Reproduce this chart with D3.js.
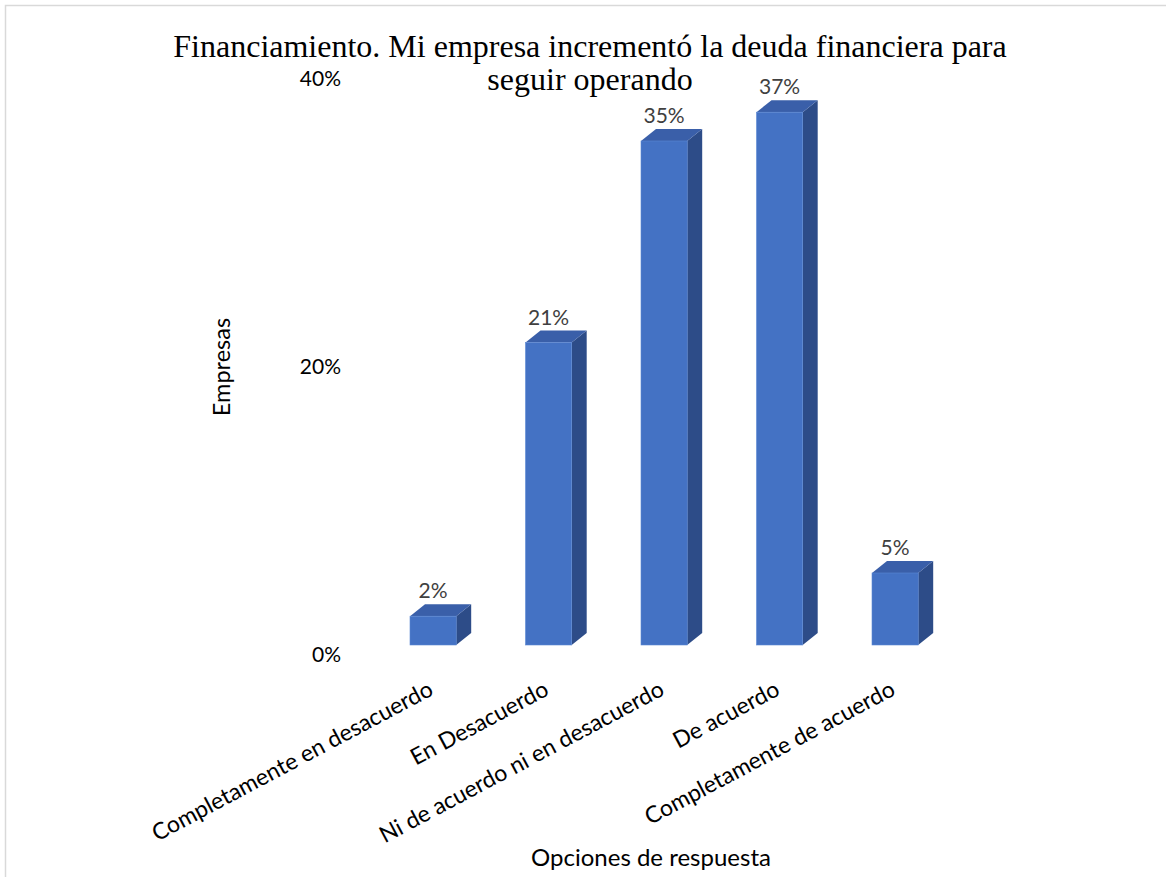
<!DOCTYPE html>
<html>
<head>
<meta charset="utf-8">
<script src="https://cdn.jsdelivr.net/npm/d3@7"></script>
<style>
  html, body { margin: 0; padding: 0; background: #ffffff; }
  svg { display: block; }
</style>
</head>
<body>
<svg id="chart" width="1166" height="877"></svg>
<script>
// Survey answers: share of firms per response option
const categories = [
  "Completamente en desacuerdo",
  "En Desacuerdo",
  "Ni de acuerdo ni en desacuerdo",
  "De acuerdo",
  "Completamente de acuerdo"
];
const values = [2, 21, 35, 37, 5];
const yTicks = [0, 20, 40];
const titleLines = [
  "Financiamiento. Mi empresa incrementó la deuda financiera para",
  "seguir operando"
];
const yTitle = "Empresas";
const xTitle = "Opciones de respuesta";

const svg = d3.select("#chart");
const W = 1166, H = 877;
const sansFont = "Lato, 'Open Sans', 'Liberation Sans', sans-serif";

// 3D extrusion of each column (back face offset)
const depthX = 15, depthY = -12;

const x = d3.scaleBand()
  .domain(categories)
  .range([340.7, 987.5])
  .paddingInner(0.6)
  .paddingOuter(0.6);

const y = d3.scaleLinear()
  .domain([0, 40])
  .range([645, 69]);

// Frame around the chart area
svg.append("path")
  .attr("d", `M5.5,${H} V5.5 H${W}`)
  .attr("fill", "none")
  .attr("stroke", "#d9d9d9")
  .attr("stroke-width", 1.5);

// Title
const title = svg.append("text")
  .attr("text-anchor", "middle")
  .attr("font-family", "'Liberation Serif', 'Times New Roman', serif")
  .attr("font-size", 32)
  .attr("fill", "#000");
titleLines.forEach((line, i) => {
  title.append("tspan")
    .attr("x", 590)
    .attr("y", 57 + i * 33)
    .text(line);
});

// Y tick labels
svg.append("g")
  .selectAll("text")
  .data(yTicks)
  .join("text")
  .attr("x", 341)
  .attr("y", d => y(d) + 10)
  .attr("dy", "0.35em")
  .attr("text-anchor", "end")
  .attr("font-family", sansFont)
  .attr("font-size", 21)
  .attr("fill", "#000")
  .text(d => d + "%");

// Columns
const bars = svg.append("g")
  .selectAll("g")
  .data(categories.map((c, i) => ({ c, v: values[i] })))
  .join("g");

bars.append("path") // side face
  .attr("fill", "#2d4c88")
  .attr("d", d => {
    const x1 = x(d.c) + x.bandwidth(), y0 = y(0), y1 = y(d.v);
    return `M${x1},${y0} L${x1 + depthX},${y0 + depthY} L${x1 + depthX},${y1 + depthY} L${x1},${y1} Z`;
  });

bars.append("path") // top face
  .attr("fill", "#3a5fa9")
  .attr("d", d => {
    const x0 = x(d.c), x1 = x0 + x.bandwidth(), y1 = y(d.v);
    return `M${x0},${y1} L${x0 + depthX},${y1 + depthY} L${x1 + depthX},${y1 + depthY} L${x1},${y1} Z`;
  });

bars.append("rect") // front face
  .attr("x", d => x(d.c))
  .attr("y", d => y(d.v))
  .attr("width", x.bandwidth())
  .attr("height", d => y(0) - y(d.v))
  .attr("fill", "#4472c4")
  .attr("stroke", "#5b87d4")
  .attr("stroke-width", 0.6);

// Value labels
bars.append("text")
  .attr("x", d => x(d.c) + x.bandwidth() / 2)
  .attr("y", d => y(d.v) + depthY - 6)
  .attr("text-anchor", "middle")
  .attr("font-family", sansFont)
  .attr("font-size", 21)
  .attr("fill", "#404040")
  .text(d => d.v + "%");

// Category labels, slanted
svg.append("g")
  .selectAll("text")
  .data(categories)
  .join("text")
  .attr("transform", d => `translate(${x(d) + x.bandwidth() / 2 - 6},${680}) rotate(-28)`)
  .attr("text-anchor", "end")
  .attr("dy", "0.7em")
  .attr("font-family", sansFont)
  .attr("font-size", 23)
  .attr("fill", "#000")
  .text(d => d);

// Axis titles
svg.append("text")
  .attr("transform", "translate(222,367) rotate(-90)")
  .attr("text-anchor", "middle")
  .attr("dy", "0.35em")
  .attr("font-family", sansFont)
  .attr("font-size", 23.5)
  .attr("fill", "#000")
  .text(yTitle);

svg.append("text")
  .attr("x", 651)
  .attr("y", 858)
  .attr("dy", "0.35em")
  .attr("text-anchor", "middle")
  .attr("font-family", sansFont)
  .attr("font-size", 24)
  .attr("fill", "#000")
  .text(xTitle);
</script>
</body>
</html>
